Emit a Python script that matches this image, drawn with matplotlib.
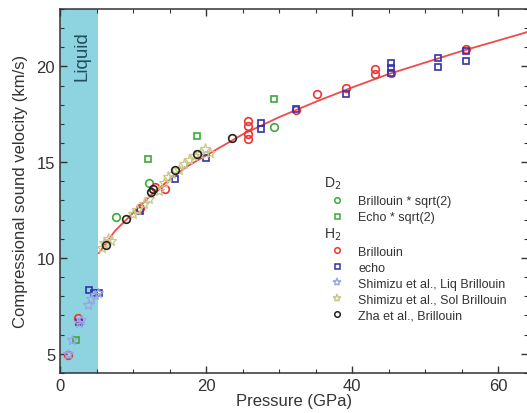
import numpy as np
import matplotlib as mpl
import matplotlib.pyplot as plt
from matplotlib.ticker import MultipleLocator
from matplotlib.lines import Line2D

plt.switch_backend('Agg')
plt.rcParams['font.family'] = ['Liberation Sans', 'DejaVu Sans']

# ---- data (P in GPa, V in km/s) ----
d2_bril_P = [7.6, 12.15, 29.3]
d2_bril_V = [12.12, 13.9, 16.85]

d2_echo_P = [2.2, 12.1, 18.7, 29.3]
d2_echo_V = [5.74, 15.16, 16.37, 18.3]

h2_bril_P = [1.05, 2.5, 11.0, 13.0, 14.4, 25.7, 25.7, 25.7, 25.7, 32.3, 35.2,
             39.2, 43.1, 43.1, 45.3, 55.6]
h2_bril_V = [4.95, 6.86, 12.6, 13.68, 13.62, 17.15, 16.9, 16.46, 16.23, 17.7,
             18.57, 18.85, 19.84, 19.58, 19.65, 20.92]

h2_echo_P = [2.6, 4.0, 4.7, 5.3, 11.0, 15.8, 19.95, 27.5, 27.5, 32.3, 39.2,
             45.3, 45.3, 45.3, 51.8, 51.8, 55.6, 55.6]
h2_echo_V = [6.65, 8.35, 8.18, 8.18, 12.46, 14.1, 15.2, 17.07, 16.72, 17.76,
             18.54, 20.2, 19.93, 19.67, 20.45, 19.98, 20.8, 20.28]

liq_P = [1.1, 1.6, 2.6, 2.8, 3.8, 4.3, 4.8, 5.2]
liq_V = [5.0, 5.7, 6.6, 6.75, 7.55, 7.85, 8.05, 8.15]

sol_P = [5.7, 6.0, 6.5, 7.0, 10.0, 10.6, 11.5, 12.2, 13.5, 14.2, 14.8, 15.3,
         16.3, 17.0, 17.6, 18.3, 19.2, 19.8, 20.5]
sol_V = [10.5, 10.8, 11.0, 10.9, 12.3, 12.5, 12.8, 13.1, 13.5, 13.9, 14.2,
         14.4, 14.6, 14.9, 15.1, 15.3, 15.4, 15.7, 15.5]

zha_P = [6.3, 9.0, 12.4, 12.7, 15.8, 18.8, 23.6]
zha_V = [10.65, 12.03, 13.42, 13.6, 14.6, 15.42, 16.28]

fit_P = [5.3, 7.5, 10, 12.5, 15, 17.5, 20, 25, 30, 35, 40, 45, 50, 55, 60, 64.5]
fit_V = [10.25, 11.4, 12.35, 13.3, 14.1, 14.8, 15.35, 16.45, 17.35, 18.15,
         18.9, 19.6, 20.2, 20.8, 21.35, 21.85]

liquid_edge = 5.25

# ---- figure ----
fig = plt.figure(figsize=(5.27, 4.14), dpi=100)
ax = fig.add_axes([0.114, 0.097, 0.888, 0.879])

ax.axvspan(0, liquid_edge, color='#8dd3e0', zorder=0, lw=0)
ax.text(3.0, 21.9, 'Liquid', rotation=90, ha='center', va='top',
        fontsize=13.5, color='#1f4f5a')

ax.plot(fit_P, fit_V, '-', color='#f04a4a', lw=1.3, zorder=2)

mk = dict(ls='none', mfc='none', mew=1.2, zorder=3)
red = '#ee3333'
blue = '#3333aa'
green = '#3aaa3a'
liqc = '#9aa6e6'
solc = '#c8c88a'

ax.plot(d2_bril_P, d2_bril_V, 'o', mec=green, ms=5.5, **mk)
ax.plot(d2_echo_P, d2_echo_V, 's', mec=green, ms=4.8, **mk)
ax.plot(h2_bril_P, h2_bril_V, 'o', mec=red, ms=5.5, **mk)
ax.plot(h2_echo_P, h2_echo_V, 's', mec=blue, ms=4.8, **mk)
ax.plot(liq_P, liq_V, '*', mec=liqc, mew=0.9, ms=7, ls='none', mfc='none', zorder=3)
ax.plot(sol_P, sol_V, '*', mec=solc, mew=0.9, ms=8, ls='none', mfc='none', zorder=3)
ax.plot(zha_P, zha_V, 'o', mec='#222222', ms=5.5, **mk)

ax.set_xlim(0, 64.1)
ax.set_ylim(4, 23)
ax.xaxis.set_major_locator(MultipleLocator(20))
ax.xaxis.set_minor_locator(MultipleLocator(5))
ax.yaxis.set_major_locator(MultipleLocator(5))
ax.yaxis.set_minor_locator(MultipleLocator(1))
ax.tick_params(which='both', direction='in', top=True, right=True,
               colors='#333333', labelsize=12)
ax.tick_params(which='major', length=5, width=1)
ax.tick_params(which='minor', length=3, width=0.8)
for s in ax.spines.values():
    s.set_color('#333333')
    s.set_linewidth(1.1)

ax.set_xlabel('Pressure (GPa)', fontsize=12, color='#333333', labelpad=0)
ax.set_ylabel('Compressional sound velocity (km/s)', fontsize=12,
              color='#333333', labelpad=6)

# ---- legends ----
def h(marker, color, ms=5):
    return Line2D([], [], ls='none', marker=marker, mfc='none', mec=color,
                  mew=1.1, ms=ms)

legkw = dict(frameon=False, fontsize=9, handlelength=2.0, handletextpad=0.7,
             labelspacing=0.32, borderpad=0, borderaxespad=0,
             alignment='left', title_fontsize=10, labelcolor='#333333')

leg1 = ax.legend([h('o', green, 4), h('s', green, 3.6)],
                 ['Brillouin * sqrt(2)', 'Echo * sqrt(2)'],
                 title='D$_2$', loc='upper left',
                 bbox_to_anchor=(0.565, 0.545), **legkw)
leg1.get_title().set_color('#333333')
ax.add_artist(leg1)

leg2 = ax.legend([h('o', red, 4), h('s', blue, 3.6), h('*', liqc, 6),
                  h('*', solc, 6), h('o', '#222222', 4)],
                 ['Brillouin', 'echo', 'Shimizu et al., Liq Brillouin',
                  'Shimizu et al., Sol Brillouin', 'Zha et al., Brillouin'],
                 title='H$_2$', loc='upper left',
                 bbox_to_anchor=(0.565, 0.405), **legkw)
leg2.get_title().set_color('#333333')

fig.savefig('out.png', dpi=100)
